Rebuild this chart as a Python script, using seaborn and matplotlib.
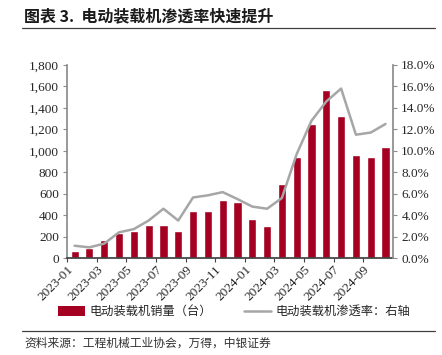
import numpy as np
import pandas as pd
import matplotlib
matplotlib.use("Agg")
import matplotlib.pyplot as plt
import seaborn as sns
from matplotlib.lines import Line2D
from matplotlib.patches import Patch
from matplotlib.ticker import FuncFormatter

sns.set_theme(style="white")
plt.rcParams["font.family"] = ["Liberation Serif", "Noto Sans CJK SC"]

# data
months = ["2023-01", "2023-02", "2023-03", "2023-04", "2023-05", "2023-06",
          "2023-07", "2023-08", "2023-09", "2023-10", "2023-11", "2023-12",
          "2024-01", "2024-02", "2024-03", "2024-04", "2024-05", "2024-06",
          "2024-07", "2024-08", "2024-09", "2024-10"]
sales = [70, 90, 164, 236, 248, 308, 306, 255, 435, 441, 544, 519,
         367, 301, 690, 945, 1253, 1570, 1321, 957, 939, 1040]
penetration = [1.15, 1.0, 1.35, 2.4, 2.7, 3.5, 4.6, 3.5, 5.65, 5.85, 6.15, 5.5,
               4.8, 4.6, 5.6, 9.7, 12.8, 14.6, 15.8, 11.5, 11.7, 12.5]
tick_labels = months[::2]

bar_color = "#A50021"
line_color = "#A6A6A6"
spine_color = "#8C8C8C"
cjk = ["Noto Sans CJK SC", "DejaVu Sans"]

df = pd.DataFrame({"month": months, "sales": sales, "pen": penetration})
df["pos"] = np.arange(len(df))

fig = plt.figure(figsize=(4.42, 3.55), dpi=100)
ax = fig.add_axes([0.152, 0.273, 0.737, 0.544])

sns.barplot(data=df, x="month", y="sales", ax=ax, color=bar_color,
            width=0.55, saturation=1)
ax.set_ylim(0, 1800)
ax.set_yticks(np.arange(0, 1801, 200))
ax.yaxis.set_major_formatter(FuncFormatter(lambda v, p: f"{int(v):,}"))
ax.set_xlim(-0.5, len(months) - 0.5)
ax.set_xticks(np.arange(0, len(months), 2) - 0.5)
ax.set_xticklabels(tick_labels, rotation=45, ha="right", rotation_mode="anchor")
ax.set_xlabel("")
ax.set_ylabel("")

ax2 = ax.twinx()
sns.lineplot(data=df, x="pos", y="pen", ax=ax2, color=line_color, linewidth=1.8)
ax2.set_ylim(0, 18)
ax2.set_yticks(np.arange(0, 18.1, 2))
ax2.yaxis.set_major_formatter(FuncFormatter(lambda v, p: f"{v:.1f}%"))
ax2.set_xlim(-0.5, len(months) - 0.5)
ax2.set_xlabel("")
ax2.set_ylabel("")

for a in (ax, ax2):
    a.spines["top"].set_visible(False)
    a.spines["left"].set_color(spine_color)
    a.spines["right"].set_color(spine_color)
    a.spines["bottom"].set_color("#404040")
    a.grid(False)
ax2.spines["left"].set_visible(False)
ax2.spines["bottom"].set_visible(False)
ax.spines["right"].set_visible(False)

ax.tick_params(axis="y", direction="out", length=3, width=0.8, color=spine_color,
               labelsize=9.5, pad=3, left=True)
ax.tick_params(axis="x", direction="out", length=3, width=0.8, color="#404040",
               labelsize=9.5, pad=1, bottom=True)
ax2.tick_params(axis="y", direction="out", length=3, width=0.8, color=spine_color,
                labelsize=9.5, pad=3, right=True)

# legend below the plot
handles = [Patch(facecolor=bar_color, edgecolor="none"),
           Line2D([0], [0], color=line_color, linewidth=1.8)]
fig.legend(handles, ["电动装载机销量（台）", "电动装载机渗透率：右轴"],
           loc="center left", bbox_to_anchor=(0.131, 0.122), ncol=2, frameon=False,
           prop={"family": cjk, "size": 8.8}, handlelength=2.2, handleheight=0.8,
           columnspacing=2.6, handletextpad=0.4, borderpad=0, borderaxespad=0)

# title and source
fig.text(0.055, 0.953, "图表 3.  电动装载机渗透率快速提升", fontsize=11.5,
         fontweight="bold", family=cjk, va="center", ha="left", color="#1a1a1a")
fig.add_artist(Line2D([0.05, 0.985], [0.921, 0.921], color="#404040",
                      linewidth=0.9, transform=fig.transFigure))
fig.add_artist(Line2D([0.05, 0.985], [0.068, 0.068], color="#404040",
                      linewidth=0.9, transform=fig.transFigure))
fig.text(0.055, 0.034, "资料来源：工程机械工业协会，万得，中银证券", fontsize=8.5,
         family=cjk, va="center", ha="left", color="#333333")

fig.savefig("out.png", dpi=100)
plt.close(fig)
